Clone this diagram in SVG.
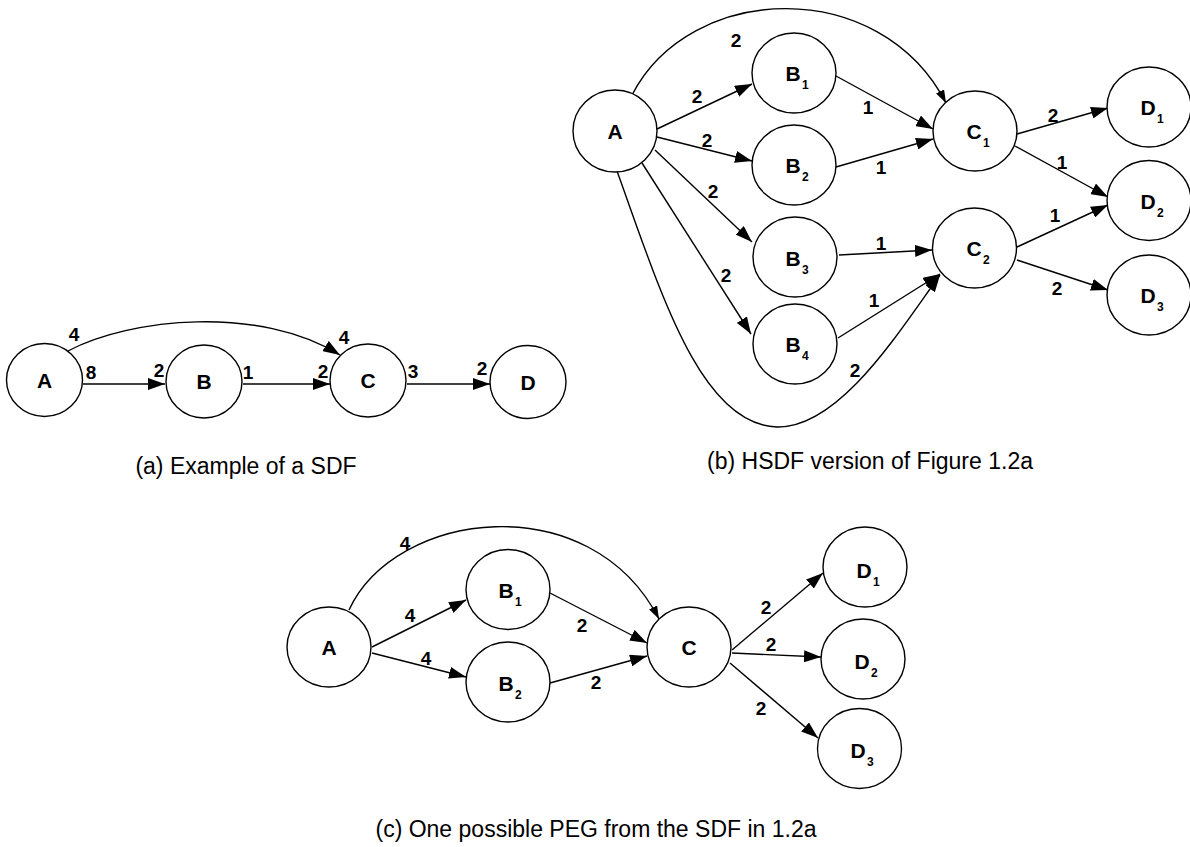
<svg xmlns="http://www.w3.org/2000/svg" width="1190" height="847" viewBox="0 0 1190 847">
<defs>
<style>
.n{fill:#fff;stroke:#000;stroke-width:1.4}
.t{font-family:"Liberation Sans",Arial,sans-serif;font-weight:bold;font-size:21px;text-anchor:middle;fill:#000}
.s{font-family:"Liberation Sans",Arial,sans-serif;font-weight:bold;font-size:12px;fill:#000}
.l{font-family:"Liberation Sans",Arial,sans-serif;font-weight:bold;font-size:19px;text-anchor:middle;fill:#000}
.e{fill:none;stroke:#000;stroke-width:1.4;marker-end:url(#ah)}
.c{fill:none;stroke:#000;stroke-width:1.4;marker-end:url(#as)}
.cap{font-family:"Liberation Sans",Arial,sans-serif;font-size:23px;text-anchor:middle;fill:#000}
</style>
<marker id="ah" markerUnits="userSpaceOnUse" markerWidth="17" markerHeight="12" refX="17" refY="6" orient="auto"><path d="M0,0 L17,6 L0,12 z" fill="#000"/></marker>
<marker id="as" markerUnits="userSpaceOnUse" markerWidth="13" markerHeight="9" refX="13" refY="4.5" orient="auto"><path d="M0,0 L13,4.5 L0,9 z" fill="#000"/></marker>
</defs>
<rect width="1190" height="847" fill="#fff"/>

<!-- Panel (a) -->
<g id="a-connectors">
<path class="e" d="M83,384 L165,384"/>
<path class="e" d="M243,384 L330,384"/>
<path class="e" d="M407,384 L490,384"/>
<path class="e" d="M68,351 C130,318 260,305 340,355"/>
<text class="l" x="74" y="341">4</text>
<text class="l" x="91" y="379">8</text>
<text class="l" x="159" y="377">2</text>
<text class="l" x="248" y="379">1</text>
<text class="l" x="323" y="378">2</text>
<text class="l" x="344" y="344">4</text>
<text class="l" x="413" y="378">3</text>
<text class="l" x="482" y="375">2</text>
</g>
<g id="a-A"><ellipse class="n" cx="44.5" cy="380" rx="38" ry="36.5"/><text class="t" x="44.5" y="388">A</text></g>
<g id="a-B"><ellipse class="n" cx="204" cy="381.5" rx="38" ry="36.5"/><text class="t" x="204" y="389">B</text></g>
<g id="a-C"><ellipse class="n" cx="368" cy="380.5" rx="38" ry="36.5"/><text class="t" x="368" y="388">C</text></g>
<g id="a-D"><ellipse class="n" cx="528" cy="382" rx="38" ry="36.5"/><text class="t" x="528" y="390">D</text></g>
<text class="cap" x="246" y="474">(a) Example of a SDF</text>

<!-- Panel (b) -->
<g id="b-connectors">
<path class="c" d="M632,95 C690,-18 880,-25 946,103"/>
<path class="e" d="M657,129 L752,84"/>
<path class="e" d="M657,137 L752,161"/>
<path class="e" d="M655,150 L752,242"/>
<path class="e" d="M642,163 L751,334"/>
<path class="e" d="M617,171 C660,290 700,425 777,427 C840,428 900,330 940,275"/>
<path class="e" d="M836,76 L933,129"/>
<path class="e" d="M836,167 L933,139"/>
<path class="e" d="M839,255 L932,250"/>
<path class="e" d="M838,338 L940,274"/>
<path class="e" d="M1017,134 L1108,108"/>
<path class="e" d="M1015,146 L1108,197"/>
<path class="e" d="M1017,247 L1108,205"/>
<path class="e" d="M1017,260 L1108,290"/>
<text class="l" x="736" y="47">2</text>
<text class="l" x="697" y="103">2</text>
<text class="l" x="707" y="147">2</text>
<text class="l" x="713" y="198">2</text>
<text class="l" x="726" y="282">2</text>
<text class="l" x="855" y="377">2</text>
<text class="l" x="868" y="114">1</text>
<text class="l" x="881" y="174">1</text>
<text class="l" x="881" y="250">1</text>
<text class="l" x="874" y="307">1</text>
<text class="l" x="1053" y="122">2</text>
<text class="l" x="1062" y="169">1</text>
<text class="l" x="1055" y="222">1</text>
<text class="l" x="1057" y="295">2</text>
</g>
<g id="b-A"><ellipse class="n" cx="615" cy="131" rx="42" ry="41"/><text class="t" x="615" y="139">A</text></g>
<g id="b-B1"><ellipse class="n" cx="794" cy="73" rx="42" ry="40"/><text class="t" x="793" y="81">B</text><text class="s" x="802" y="89">1</text></g>
<g id="b-B2"><ellipse class="n" cx="794" cy="165" rx="42" ry="40"/><text class="t" x="793" y="173">B</text><text class="s" x="802" y="181">2</text></g>
<g id="b-B3"><ellipse class="n" cx="795" cy="257" rx="42" ry="40"/><text class="t" x="793" y="266">B</text><text class="s" x="802" y="274">3</text></g>
<g id="b-B4"><ellipse class="n" cx="795" cy="344" rx="42" ry="40"/><text class="t" x="793" y="352">B</text><text class="s" x="802" y="360">4</text></g>
<g id="b-C1"><ellipse class="n" cx="975" cy="131" rx="42" ry="40"/><text class="t" x="974" y="139">C</text><text class="s" x="983" y="147">1</text></g>
<g id="b-C2"><ellipse class="n" cx="974.5" cy="248" rx="42" ry="40"/><text class="t" x="974" y="256">C</text><text class="s" x="983" y="264">2</text></g>
<g id="b-D1"><ellipse class="n" cx="1149" cy="107" rx="42" ry="40"/><text class="t" x="1148" y="115">D</text><text class="s" x="1157" y="123">1</text></g>
<g id="b-D2"><ellipse class="n" cx="1149" cy="200.5" rx="42" ry="40"/><text class="t" x="1148" y="209">D</text><text class="s" x="1157" y="217">2</text></g>
<g id="b-D3"><ellipse class="n" cx="1149" cy="295" rx="42" ry="40"/><text class="t" x="1148" y="303">D</text><text class="s" x="1157" y="311">3</text></g>
<text class="cap" x="870" y="469">(b) HSDF version of Figure 1.2a</text>

<!-- Panel (c) -->
<g id="c-connectors">
<path class="c" d="M349,610 C395,510 590,485 659,619"/>
<path class="e" d="M372,647 L466,600"/>
<path class="e" d="M372,653 L466,677"/>
<path class="e" d="M550,593 L647,643"/>
<path class="e" d="M550,683 L647,656"/>
<path class="e" d="M732,650 L823,573"/>
<path class="e" d="M732,653 L821,657"/>
<path class="e" d="M730,663 L818,738"/>
<text class="l" x="405" y="550">4</text>
<text class="l" x="410" y="622">4</text>
<text class="l" x="426" y="665">4</text>
<text class="l" x="582" y="632">2</text>
<text class="l" x="596" y="689">2</text>
<text class="l" x="766" y="614">2</text>
<text class="l" x="771" y="651">2</text>
<text class="l" x="761" y="715">2</text>
</g>
<g id="c-A"><ellipse class="n" cx="329" cy="647" rx="42" ry="40"/><text class="t" x="329" y="655">A</text></g>
<g id="c-B1"><ellipse class="n" cx="508" cy="589.5" rx="42" ry="40"/><text class="t" x="506" y="598">B</text><text class="s" x="515" y="606">1</text></g>
<g id="c-B2"><ellipse class="n" cx="508" cy="682" rx="42" ry="40"/><text class="t" x="506" y="691">B</text><text class="s" x="515" y="699">2</text></g>
<g id="c-C"><ellipse class="n" cx="689" cy="647" rx="42" ry="40"/><text class="t" x="689" y="655">C</text></g>
<g id="c-D1"><ellipse class="n" cx="865" cy="567" rx="42" ry="40"/><text class="t" x="864" y="578">D</text><text class="s" x="873" y="586">1</text></g>
<g id="c-D2"><ellipse class="n" cx="863" cy="659" rx="42" ry="40"/><text class="t" x="862" y="669">D</text><text class="s" x="871" y="677">2</text></g>
<g id="c-D3"><ellipse class="n" cx="859.5" cy="748.5" rx="42" ry="40"/><text class="t" x="858" y="758">D</text><text class="s" x="867" y="766">3</text></g>
<text class="cap" x="596" y="837">(c) One possible PEG from the SDF in 1.2a</text>
</svg>
